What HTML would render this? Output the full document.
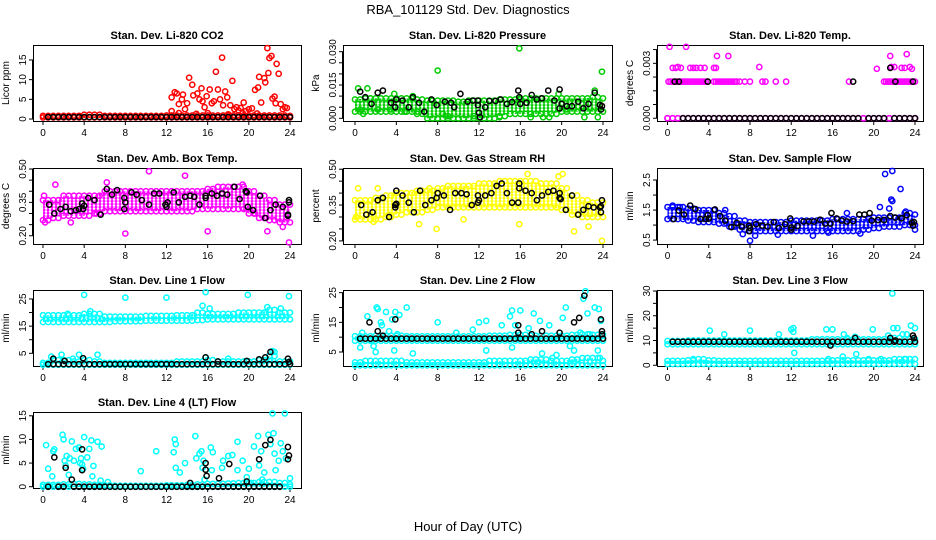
<!DOCTYPE html>
<html><head><meta charset="utf-8"><title>RBA_101129 Std. Dev. Diagnostics</title>
<style>
html,body{margin:0;padding:0;background:#fff;}
svg{display:block;font-family:"Liberation Sans",Arial,sans-serif;}
.pt{fill:none;stroke-width:1.5;}
</style></head>
<body>
<svg id="chart" width="936" height="540" viewBox="0 0 936 540" xmlns="http://www.w3.org/2000/svg">
<defs>
 <pattern id="pat-red" width="4" height="3" patternUnits="userSpaceOnUse"><circle cx="2" cy="1.5" r="1.9" fill="none" stroke="#ff0000" stroke-width="1.2"/></pattern>
 <pattern id="pat-green" width="4" height="3" patternUnits="userSpaceOnUse"><circle cx="2" cy="1.5" r="1.9" fill="none" stroke="#00cc00" stroke-width="1.2"/></pattern>
 <pattern id="pat-magenta" width="4" height="3" patternUnits="userSpaceOnUse"><circle cx="2" cy="1.5" r="1.9" fill="none" stroke="#ff00ff" stroke-width="1.2"/></pattern>
 <pattern id="pat-yellow" width="4" height="3" patternUnits="userSpaceOnUse"><circle cx="2" cy="1.5" r="1.9" fill="none" stroke="#ffff00" stroke-width="1.2"/></pattern>
 <pattern id="pat-blue" width="4" height="3" patternUnits="userSpaceOnUse"><circle cx="2" cy="1.5" r="1.9" fill="none" stroke="#0000ff" stroke-width="1.2"/></pattern>
 <pattern id="pat-cyan" width="4" height="3" patternUnits="userSpaceOnUse"><circle cx="2" cy="1.5" r="1.9" fill="none" stroke="#00ffff" stroke-width="1.2"/></pattern>
</defs>
<text x="468" y="14" font-size="13" text-anchor="middle">RBA_101129  Std. Dev. Diagnostics</text>
<text x="468" y="531" font-size="13" text-anchor="middle">Hour of Day (UTC)</text>
</svg>
<script>
// ---------- data ----------
const hrs = [0,1,2,3,4,5,6,7,8,9,10,11,12,13,14,15,16,17,18,19,20,21,22,23,24];
const hrsHalf = [0.5,1,1.5,2,2.5,3,3.5,4,4.5,5,5.5,6,6.5,7,7.5,8,8.5,9,9.5,10,10.5,11,11.5,12,12.5,13,13.5,14,14.5,15,15.5,16,16.5,17,17.5,18,18.5,19,19.5,20,20.5,21,21.5,22,22.5,23,23.5,24];
const xTicks = [0,4,8,12,16,20,24];

// Panel 1 CO2
const co2BandLo = [0.4,0.4,0.4,0.4,0.4,0.4,0.4,0.4,0.4,0.4,0.4,0.4,0.4,0.4,0.4,0.4,0.4,0.4,0.4,0.4,0.4,0.4,0.4,0.4,0.4];
const co2BandHi = [0.8,0.8,0.8,0.8,1.1,1.1,0.8,0.8,0.8,0.8,0.8,0.8,0.9,0.9,0.9,0.9,0.9,0.9,0.9,0.9,0.9,0.9,0.9,0.9,0.8];
const co2Red = [[12.5,5.5],[12.5,2],[12.8,6.8],[13,6.5],[13.2,3.8],[13.5,5],[13.6,6.2],[13.8,2.5],[14,4],[14.2,10.5],[14.5,8.7],[14.6,6],[15,6.5],[15.2,5],[15.4,7.8],[15.5,4.5],[15.7,3],[15.9,5.8],[16.2,7.5],[16.4,4],[16.6,4.5],[16.8,12],[17,7.5],[17.2,5],[17.4,15.6],[17.5,3.5],[17.7,7],[17.9,5.5],[18.2,3.5],[18.4,9.7],[18.6,2.5],[18.8,3],[19,2.2],[19.2,2.8],[19.5,4.2],[19.7,2],[20,2.5],[20.3,2.7],[20.6,7.4],[20.9,8],[21,10.7],[21.2,4.2],[21.5,10.4],[21.6,9.3],[21.8,18],[21.9,11.7],[22,15.5],[22.2,16],[22.3,5.2],[22.5,5.7],[22.6,4],[22.7,14],[22.9,11.5],[23.1,3.8],[23.3,2.5],[23.5,3],[23.7,2.8],[16,1.5],[18,1.2],[13.2,1.5],[14.9,1.3],[19.4,1.5],[20.8,1.4]];
const co2Black = [0.5,0.5,0.5,0.5,0.5,0.5,0.5,0.5,0.5,0.5,0.5,0.5,0.5,0.5,0.5,0.5,0.5,0.5,0.5,0.5,0.5,0.5,0.5,0.5,0.5,0.5,0.5,0.5,0.5,0.5,0.5,0.5,0.5,0.5,0.5,0.5,0.5,0.5,0.5,0.5,0.5,0.5,0.5,0.5,0.5,0.5,0.5,0.5];

// Panel 2 Pressure
const presBandLo = [0.003,0.003,0.003,0.003,0.003,0.003,0.002,0,0,0,0,0,0,0,0.001,0.002,0.002,0.002,0.002,0.002,0.003,0.003,0.003,0.003,0.003];
const presBandHi = [0.0085,0.009,0.009,0.009,0.009,0.009,0.0085,0.008,0.008,0.008,0.0075,0.008,0.008,0.008,0.0085,0.0085,0.009,0.009,0.009,0.009,0.009,0.009,0.009,0.0095,0.009];
const presGreen = [[0.3,0.0135],[0.5,0.004],[0.8,0.002],[1.2,0.0135],[1.5,0.009],[2.2,0.004],[3.8,0.011],[3.5,0.004],[4.8,0.003],[5.6,0.01],[6,0.003],[8,0.0215],[8.5,0.002],[9,0.001],[15.9,0.0315],[16,0.0085],[17,0.0005],[18.2,0.0005],[18.8,0.0005],[19.7,0.011],[20.5,0.004],[22.2,0.0005],[23.2,0.0125],[23.5,0.0005],[23.9,0.021],[14,0.0005],[11.5,0.001]];
const presBlack = [[0.5,0.012],[1,0.0095],[1.6,0.0065],[2.2,0.0115],[2.7,0.0125],[3.5,0.007],[3.9,0.005],[4,0.0085],[4.6,0.008],[5.2,0.005],[5.6,0.0095],[6.2,0.007],[6.7,0.003],[7.4,0.0085],[7.9,0.006],[8.7,0.0075],[9.3,0.007],[9.6,0.005],[10.2,0.011],[10.9,0.0075],[11.4,0.008],[11.9,0.008],[11.9,0.006],[12,0.0025],[12.1,0.0005],[12.6,0.005],[13,0.0078],[13.6,0.0078],[14.1,0.0085],[14.7,0.0065],[15.2,0.0073],[15.8,0.0125],[15.9,0.0095],[16,0.0065],[16.6,0.007],[17.1,0.0105],[17.6,0.0085],[18.1,0.009],[18.7,0.0125],[19.3,0.008],[19.8,0.013],[19.8,0.0045],[20,0.0065],[20.5,0.0055],[21,0.0055],[21.6,0.0075],[22.1,0.0045],[22.6,0.0065],[23.2,0.0115],[23.7,0.006],[23.8,0.004],[23.9,0.0055]];

// Panel 3 Temp
const tempBandLo = [0,0,0,0,0,0,0,0,0,0,0,0,0,0,0,0,0,0,0,0,0,0,0,0,0];
const tempBandHi = [0,0,0,0,0,0,0,0,0,0,0,0,0,0,0,0,0,0,0,0,0,0,0,0,0];
const tempMagX002 = [0.1,0.3,0.5,0.7,0.9,1.1,1.3,1.5,1.7,1.9,2.1,2.3,2.5,2.7,2.9,3.1,3.3,3.5,3.7,3.9,4.5,4.7,4.9,5.1,5.3,5.5,5.7,5.9,6.1,6.3,6.5,6.7,7,7.5,8,9.2,9.5,10.5,11.5,17.6,21,21.2,21.4,21.6,21.8,22,22.2,22.4,22.6,22.8,23,23.2,23.4,23.6,23.8,24];
const tempMagY002 = [0.002,0.002,0.002,0.002,0.002,0.002,0.002,0.002,0.002,0.002,0.002,0.002,0.002,0.002,0.002,0.002,0.002,0.002,0.002,0.002,0.002,0.002,0.002,0.002,0.002,0.002,0.002,0.002,0.002,0.002,0.002,0.002,0.002,0.002,0.002,0.002,0.002,0.002,0.002,0.002,0.002,0.002,0.002,0.002,0.002,0.002,0.002,0.002,0.002,0.002,0.002,0.002,0.002,0.002,0.002,0.002];
const tempMagHigh = [[0.5,0.00275],[0.8,0.00275],[1,0.0028],[1.3,0.00275],[2.2,0.00275],[2.5,0.00275],[2.8,0.00275],[3.2,0.00275],[3.6,0.00275],[4.5,0.00275],[4.7,0.00275],[8.9,0.0028],[20.3,0.0027],[21.7,0.0028],[22,0.0028],[22.7,0.00275],[23,0.00275],[23.5,0.0028],[23.7,0.0027],[4.8,0.0034],[5.9,0.0034],[21.6,0.0034],[23.2,0.0035],[0.2,0.0039],[1.8,0.0039]];
const tempBlack0 = [null,null,0,0,0,0,0,0,0,0,0,0,0,0,0,0,0,0,0,0,0,0,0,0,0,0,0,0,0,0,0,0,0,0,0,0,0,null,0,0,0,0,null,0,0,0,0,0];
const tempBlackHi = [[0.7,0.002],[1.1,0.002],[3.9,0.002],[18,0.002],[22.1,0.002],[23.8,0.002],[21.6,0.00275]];

// Panel 4 Amb box temp
const ambBandLo = [0.27,0.28,0.29,0.29,0.29,0.3,0.31,0.31,0.31,0.31,0.31,0.31,0.31,0.31,0.31,0.32,0.32,0.32,0.32,0.32,0.3,0.28,0.27,0.26,0.26];
const ambBandHi = [0.36,0.36,0.38,0.38,0.38,0.38,0.4,0.4,0.4,0.4,0.4,0.4,0.4,0.4,0.4,0.4,0.41,0.42,0.42,0.42,0.4,0.38,0.36,0.34,0.34];
const ambMag = [[1.2,0.43],[8,0.21],[10.3,0.49],[13.8,0.47],[16,0.22],[23.9,0.17],[21.8,0.22],[23.3,0.24],[6.2,0.44],[0.2,0.26],[2.7,0.26],[0.1,0.38],[5.2,0.3],[19.4,0.43],[20.6,0.3]];
const ambBlack = [[0.6,0.34],[1.1,0.3],[1.7,0.32],[2.2,0.33],[2.7,0.31],[3.2,0.315],[3.5,0.32],[3.8,0.345],[3.9,0.32],[4,0.335],[4.4,0.37],[5,0.36],[5.6,0.295],[6.2,0.41],[6.7,0.385],[7.2,0.405],[7.9,0.37],[7.9,0.32],[8,0.35],[8.6,0.395],[9.1,0.385],[9.6,0.36],[10.3,0.34],[10.8,0.39],[11.3,0.39],[11.9,0.34],[12,0.33],[12.1,0.35],[12.7,0.395],[13.2,0.35],[13.8,0.375],[14.3,0.38],[14.7,0.375],[15.2,0.34],[15.8,0.37],[15.8,0.38],[16.4,0.39],[16.9,0.38],[17.4,0.39],[17.9,0.385],[18.6,0.42],[19.1,0.365],[19.7,0.4],[19.8,0.395],[19.9,0.33],[20.4,0.315],[21.1,0.38],[21.6,0.28],[22.1,0.315],[22.6,0.34],[23.3,0.33],[23.8,0.295],[23.8,0.29],[23.9,0.35],[23.9,0.36]];

// Panel 5 RH
const rhBandLo = [0.29,0.29,0.29,0.3,0.31,0.32,0.32,0.33,0.34,0.34,0.34,0.34,0.34,0.34,0.34,0.34,0.34,0.34,0.34,0.34,0.33,0.31,0.3,0.3,0.3];
const rhBandHi = [0.37,0.37,0.38,0.39,0.4,0.4,0.41,0.41,0.42,0.43,0.43,0.43,0.44,0.44,0.45,0.45,0.45,0.45,0.44,0.44,0.42,0.39,0.37,0.36,0.36];
const rhYellow = [[0.3,0.42],[2.2,0.42],[6.2,0.27],[7.9,0.25],[10.5,0.29],[15.9,0.27],[19.7,0.47],[20.1,0.48],[21.2,0.24],[23.9,0.2],[16.7,0.48],[3.3,0.31],[0.1,0.3],[1.8,0.28],[22.6,0.26],[7.2,0.42]];
const rhBlack = [[0.6,0.35],[1.1,0.31],[1.7,0.32],[2.2,0.37],[2.7,0.38],[3.3,0.3],[3.9,0.34],[3.9,0.35],[4,0.355],[4,0.41],[4.6,0.39],[5.2,0.36],[5.7,0.32],[6.3,0.41],[6.8,0.35],[7.4,0.37],[7.9,0.38],[8,0.4],[8.6,0.39],[9.2,0.33],[9.7,0.4],[10.3,0.4],[10.8,0.395],[11.3,0.35],[11.9,0.36],[11.9,0.39],[12,0.37],[12.6,0.39],[13.2,0.4],[13.7,0.43],[14.2,0.44],[14.7,0.4],[15.2,0.36],[15.8,0.36],[15.9,0.42],[15.9,0.44],[16.5,0.41],[17.1,0.4],[17.6,0.37],[18.1,0.39],[18.7,0.405],[19.2,0.41],[19.8,0.4],[19.8,0.38],[19.9,0.375],[20.4,0.33],[21,0.39],[21.6,0.31],[22.1,0.33],[22.6,0.345],[23.1,0.34],[23.7,0.34],[23.8,0.32],[23.8,0.345],[23.9,0.37]];

// Panel 6 Sample flow
const sfBandLo = [1.2,1.2,1.15,1.1,1.1,1.05,0.95,0.85,0.8,0.8,0.8,0.8,0.8,0.8,0.8,0.8,0.8,0.8,0.8,0.85,0.9,0.95,0.95,1,1];
const sfBandHi = [1.6,1.6,1.55,1.5,1.5,1.4,1.3,1.15,1.1,1.1,1.1,1.1,1.15,1.15,1.15,1.15,1.2,1.2,1.2,1.2,1.25,1.25,1.25,1.4,1.35];
const sfBlue = [[7.3,0.7],[8,0.48],[8.5,0.65],[10.7,0.68],[14.1,0.65],[18.7,0.72],[20.6,1.6],[21.1,2.7],[21.5,1.55],[21.7,1.85],[21.8,1.8],[21.8,2.8],[22.6,2.2],[17.4,1.4],[24,0.85],[0.5,1.65],[1.2,1.6],[5.6,1.5],[23.1,1.45],[15.6,0.75]];
const sfBlack = [[0.6,1.2],[1.1,1.48],[1.6,1.35],[2.2,1.65],[2.7,1.53],[3.2,1.2],[3.7,1.2],[3.9,1.33],[4,1.22],[4.6,1.52],[5.1,1.3],[5.6,1.15],[6.2,0.93],[6.7,1.07],[7.2,0.95],[7.9,0.98],[7.9,0.8],[8,0.9],[8.6,1.03],[9.2,0.98],[9.7,0.95],[10.3,1.1],[10.8,0.9],[11.4,1.03],[11.9,1.22],[12,0.85],[12,0.92],[12.6,0.97],[13.2,1.12],[13.7,1.12],[14.2,1.12],[14.8,1.18],[15.3,1.05],[15.8,1.05],[15.9,1.4],[16.4,1.22],[16.9,1.15],[17.4,1.12],[18,1.13],[18.6,1.35],[19.1,1.35],[19.6,1.4],[19.8,1.15],[20.4,1.17],[21,1.17],[21.6,1.3],[22.1,1.25],[22.7,1.23],[23.2,1.33],[23.7,1.08],[23.8,0.98],[23.9,1.1]];

// Panel 7 Line 1
const l1BandLo = [16.5,16.5,16.5,16.5,16.5,16.5,16.5,16.8,16.8,16.8,17,17,17,17,17,17.2,17.5,17.5,17.5,17.5,17.5,17.5,17.5,17.5,17.5];
const l1BandHi = [19,19,19,19,19.5,19.5,18.5,18.5,18.5,18.5,18.8,18.8,18.8,19,19,20,19.5,19.5,19.5,20,20,20,21,20,20];
const l1LowLo = [0.8,0.8,0.8,0.8,0.8,0.8,0.8,0.8,0.8,0.8,0.8,0.8,0.8,0.8,0.8,0.8,0.8,0.8,0.8,0.8,0.8,0.8,0.8,0.8,0.8];
const l1LowHi = [1.5,2.5,2.5,2,2.5,2,1.5,1.5,1.5,1.5,1.5,1.5,1.5,2,2,2,2.5,2,2,2,2,2.5,4,2,2];
const l1Cyan = [[4,26.5],[8,25.5],[12,25.5],[15.8,27.5],[19.9,26.5],[23.9,26],[16.2,21.5],[15.5,22.5],[2.4,19.5],[4.6,20.5],[21.8,22],[23.1,21.5],[1.8,4.5],[3.5,4.5],[5.3,4.5],[0.8,3.8],[2.9,3],[15.8,3.5],[18,3],[22.3,5.8],[22.5,5.5]];
const l1Black = [1,1,1,1,1,1,1,1,1,1,1,1,1,1,1,1,1,1,1,1,1,1,1,1,1,1,1,1,1,1,1,1,1,1,1,1,1,1,1,1,1,1,1,1,1,1,1,1];
const l1BlackHi = [[1,3],[2.1,2.2],[3.9,3.2],[15.8,3.5],[17,2],[19.8,2.2],[21,2.8],[21.6,3.5],[22.1,5.5],[23.8,3],[23.9,1.8]];

// Panel 8 Line 2
const l2BandLo = [8.8,8.8,8.8,8.8,8.8,8.8,8.8,8.8,8.8,8.8,8.8,8.8,8.8,8.8,8.8,8.8,8.8,8.8,8.8,8.8,8.8,8.8,8.8,8.8,8.8];
const l2BandHi = [10.3,10.3,10.5,10.5,10.5,10.3,10.3,10.3,10.3,10.3,10.3,10.3,10.3,10.5,10.5,10.8,10.8,10.5,10.5,10.5,10.5,10.8,11,10.8,10.8];
const l2LowLo = [0.5,0.5,0.5,0.5,0.5,0.5,0.5,0.5,0.5,0.5,0.5,0.5,0.5,0.5,0.5,0.5,0.5,0.5,0.5,0.5,0.5,0.5,0.5,0.5,0.5];
const l2LowHi = [1.5,2,2,2,2,1.5,1.5,1.5,1.5,1.5,1.5,1.5,1.5,2,2,2,2,2.5,2.5,2,2,2.5,3,3,2];
const l2Cyan = [[0.5,6.5],[0.7,11.5],[1.2,17],[1.5,9],[2.1,20],[2.2,19.5],[2.5,15],[2.6,14],[3,18.5],[3.3,12],[3.6,16],[3.9,18.5],[4.3,17.5],[5,20],[5.6,4.5],[2,5],[1.8,7],[3.8,5.5],[4.1,11],[8,15],[9.8,11.5],[11.4,12.5],[12,15],[12.7,15.5],[12.7,5.5],[14.2,14],[15,17],[15.2,19],[15.5,14],[15.2,6.5],[16,19],[17.3,18],[16.8,13],[17.9,15.5],[18.8,14],[19.5,4],[20.1,16.5],[20.4,20],[20.8,7],[21.2,5.5],[21.8,11.5],[22.1,23],[22.3,25.5],[22.5,18],[22.7,11],[23.2,20],[23.6,19.5],[23.8,15.5],[23.5,5.5],[23.7,3],[18.1,4.5],[19.1,3]];
const l2Black = [9.5,9.5,9.5,9.5,9.5,9.5,9.5,9.5,9.5,9.5,9.5,9.5,9.5,9.5,9.5,9.5,9.5,9.5,9.5,9.5,9.5,9.5,9.5,9.5,9.5,9.5,9.5,9.5,9.5,9.5,9.5,9.5,9.5,9.5,9.5,9.5,9.5,9.5,9.5,9.5,9.5,9.5,9.5,9.5,9.5,9.5,9.5,9.5];
const l2BlackHi = [[1.4,15],[2.2,12],[3.9,16],[2.7,10.5],[15.8,14],[15.8,11.5],[17.1,11],[18.1,12],[19.8,11.5],[21.2,15],[21.7,16.5],[22.2,24],[23.8,16],[23.9,12],[23.9,11]];

// Panel 9 Line 3
const l3BandLo = [8.5,8.5,8.5,8.5,8.5,8.5,8.5,8.5,8.5,8.5,8.5,8.5,8.5,8.5,8.5,8.5,8.5,8.5,8.5,8.5,8.5,8.5,8.5,8.5,8.5];
const l3BandHi = [9.8,9.8,10,10,10,10,10,10,10,10,10,10,10,10,10.5,10.5,10.5,10.5,10.5,10.5,10.5,10.5,11,10.5,10.5];
const l3LowLo = [0.5,0.5,0.5,0.5,0.5,0.5,0.5,0.5,0.5,0.5,0.5,0.5,0.5,0.5,0.5,0.5,0.5,0.5,0.5,0.5,0.5,0.5,0.5,0.5,0.5];
const l3LowHi = [1.8,1.8,2,2.5,2,1.8,1.8,1.8,1.8,1.8,1.8,1.8,1.8,1.8,1.8,1.8,2,2,2,2,2,2,2.5,2.5,2.5];
const l3Cyan = [[4.1,14],[5.5,12.5],[8,14],[10.8,12.5],[12,14.5],[12.2,15],[12.2,13.5],[12.3,5],[15.4,14.5],[16,14.5],[17.1,12.5],[17.4,11],[18.2,11.5],[19.9,14.5],[21.4,12],[21.8,29],[21.9,15],[22.3,15],[22.8,12.5],[23.2,12.5],[23.6,16],[24,15],[2.5,2.5],[17,3.5],[18.3,4.5],[19.5,2.5],[20.7,2.5],[15.6,2.5],[23.1,2.5]];
const l3Black = [9.5,9.5,9.5,9.5,9.5,9.5,9.5,9.5,9.5,9.5,9.5,9.5,9.5,9.5,9.5,9.5,9.5,9.5,9.5,9.5,9.5,9.5,9.5,9.5,9.5,9.5,9.5,9.5,9.5,9.5,9.5,9.5,9.5,9.5,9.5,9.5,9.5,9.5,9.5,9.5,9.5,9.5,9.5,9.5,9.5,9.5,9.5,9.5];
const l3BlackHi = [[15.8,8],[18.2,11],[21.6,11],[22.1,10],[23.8,12],[23.9,11]];

// Panel 10 Line 4
const l4BandLo = [0,0,0,0,0,0,0,0,0,0,0,0,0,0,0,0,0,0,0,0,0,0,0,0,0];
const l4BandHi = [0.4,0.4,0.5,0.6,0.5,0.4,0.3,0.2,0.2,0.2,0.2,0.2,0.3,0.3,0.4,0.5,0.6,0.6,0.7,0.8,0.8,1,1,0.8,0.5];
const l4Cyan = [[0.3,8.8],[0.5,3.8],[0.9,2.2],[1,7.5],[1.1,7.9],[1.9,11],[2,10],[2.1,5.5],[2.2,4.5],[2.3,6.5],[2.5,2.5],[2.6,6],[2.8,9.6],[3,5.5],[3.2,8],[3.5,8.3],[3.6,5],[3.7,6],[3.8,4.7],[3.9,3.8],[4,10.5],[4.3,6.2],[4.5,8],[4.7,9.8],[4.8,2.2],[4.9,4.4],[5.3,9.5],[5.6,1.3],[5.7,8.5],[6.3,1],[9.5,3.3],[11,7.5],[12.7,7.3],[12.8,10],[12.9,9],[12.9,4],[13.3,3],[13.8,5],[14.8,10.7],[14.9,6],[15.2,7],[15.4,7.5],[15.5,4],[15.6,5.5],[15.7,1.5],[16.3,8.3],[16.5,7.3],[16.4,3.5],[17.4,4],[17.5,5.5],[18,6.5],[18.4,6.7],[18.9,3.5],[18.9,9.5],[19.4,5.5],[19.8,2],[20,3.8],[20.5,8.5],[20.9,10.7],[21,4.5],[21.2,7.5],[21.5,3],[21.9,11],[22.1,9],[22.3,15.5],[22.4,11.3],[22.5,7],[22.6,3.5],[22.9,5.5],[23.1,9.2],[23.3,7.5],[23.5,15.5],[23.6,6],[24,1.8],[20.2,0.8],[21.3,1.5]];
const l4Black = [0,null,0,0,null,0,0,0,0,0,0,0,0,0,0,0,0,0,0,0,0,0,0,0,0,0,0,0,0,0,0,0,0,0,0,0,0,0,0,0,0,0,0,0,0,0,null,null];
const l4BlackHi = [[1.1,6.2],[2.2,4],[2.8,1.5],[3.8,7.9],[3.8,3.5],[14.3,0.8],[15.8,5],[15.8,3.6],[15.9,2.3],[17.1,1.8],[18.1,4.8],[19.8,1.1],[21,5.8],[21.6,8.8],[22.1,9.9],[23.8,8.4],[23.8,5.8],[23.9,6.6]];

// ---------- drawing ----------
const NS = 'http://www.w3.org/2000/svg';
const svg = document.getElementById('chart');
const COLS = [{l:33,r:301,x0:43,x24:290},{l:343,r:612,x0:355,x24:603},{l:657,r:923,x0:667.5,x24:915}];
const ROWS = [45,168,290,412];
const H = 76;
const COLORS = {red:'#ff0000',green:'#00cc00',magenta:'#ff00ff',yellow:'#ffff00',blue:'#0000ff',cyan:'#00ffff',black:'#000000'};

function mk(tag, attrs, parent){
  const e = document.createElementNS(NS, tag);
  for (const k in attrs) e.setAttribute(k, attrs[k]);
  (parent||svg).appendChild(e);
  return e;
}

function makePanel(col,row,lo,hi,title,ylab,yTicks,yLabels,name){
  const c = COLS[col], top = ROWS[row];
  const g = mk('g',{});
  
  
  const sx = h => c.x0 + h*(c.x24-c.x0)/24;
  const sy = v => top + (hi-v)/(hi-lo)*H;
  const t = mk('text',{x:(c.l+c.r)/2,y:top-6,'font-size':11,'font-weight':'bold','text-anchor':'middle'},g);
  t.textContent = title;
  
  
  const yt = mk('text',{x:0,y:0,'font-size':10,'text-anchor':'middle',transform:`translate(${c.l-24},${top+H/2}) rotate(-90)`},g);
  yt.textContent = ylab;
  
  
  const ax = mk('g',{stroke:'#000','stroke-width':1},g);
  
  
  mk('line',{x1:sx(0),x2:sx(24),y1:top+H+0.5,y2:top+H+0.5},ax);
  xTicks.forEach(v=>{
    mk('line',{x1:sx(v),x2:sx(v),y1:top+H,y2:top+H+4},ax);
    const tl = mk('text',{x:sx(v),y:top+H+15,'font-size':10,'text-anchor':'middle',stroke:'none'},g);
    tl.textContent = String(v);
    
    
  });
  mk('line',{x1:c.l-0.5,x2:c.l-0.5,y1:sy(yTicks[0]),y2:sy(yTicks[yTicks.length-1])},ax);
  yTicks.forEach((v,i)=>{
    mk('line',{x1:c.l-4,x2:c.l,y1:sy(v),y2:sy(v)},ax);
    if (yLabels[i]) {
      const tl = mk('text',{x:0,y:0,'font-size':10,'text-anchor':'middle',transform:`translate(${c.l-7},${sy(v)}) rotate(-90)`},g);
      tl.textContent = yLabels[i];
      
      
    }
  });
  const box = mk('rect',{x:c.l+0.5,y:top+0.5,width:c.r-c.l,height:H,fill:'none',stroke:'#000','stroke-width':1},g);
  
  
  const marks = mk('g',{},g);
  return {g:marks, sx, sy, name};
}

function band(p, lo, hi, color){
  let pts = hrs.map((h,i)=>p.sx(h)+','+p.sy(hi[i]));
  pts = pts.concat(hrs.slice().reverse().map((h,j)=>{const i=hrs.length-1-j; return p.sx(h)+','+p.sy(lo[i]);}));
  const poly = mk('polygon',{points:pts.join(' '),fill:`url(#pat-${color})`,stroke:'none'},p.g);
  
  
  hrs.forEach((h,i)=>{
    [lo[i],hi[i]].forEach(v=>{
      const c = mk('circle',{cx:p.sx(h),cy:p.sy(v),r:2.6,class:'pt',stroke:COLORS[color]},p.g);
      
      
    });
    if (i < hrs.length-1) {
      [lo[i],hi[i]].forEach(v=>{
        const c = mk('circle',{cx:p.sx(h+0.5),cy:p.sy(v),r:2.6,class:'pt',stroke:COLORS[color]},p.g);
        
        
      });
    }
  });
}
function pairs(p, arr, color){
  arr.forEach(([x,y])=>{
    const c = mk('circle',{cx:p.sx(x),cy:p.sy(y),r:2.6,class:'pt',stroke:COLORS[color]},p.g);
    
    
  });
}
function series(p, xs, ys, color){
  xs.forEach((x,i)=>{
    if (ys[i]===null || ys[i]===undefined) return;
    const c = mk('circle',{cx:p.sx(x),cy:p.sy(ys[i]),r:2.6,class:'pt',stroke:COLORS[color]},p.g);
    
    
  });
}

let p;
p = makePanel(0,0,-0.5,18.8,'Stan. Dev. Li-820 CO2','Licor ppm',[0,5,10,15],['0','5','10','15'],'co2');
band(p,co2BandLo,co2BandHi,'red'); pairs(p,co2Red,'red'); series(p,hrsHalf,co2Black,'black');

p = makePanel(1,0,-0.0012,0.033,'Stan. Dev. Li-820 Pressure','kPa',[0,0.005,0.01,0.015,0.02,0.025,0.03],['0.000','','','0.015','','','0.030'],'pressure');
band(p,presBandLo,presBandHi,'green'); pairs(p,presGreen,'green'); pairs(p,presBlack,'black');

p = makePanel(2,0,-0.00015,0.004,'Stan. Dev. Li-820 Temp.','degrees C',[0,0.00075,0.0015,0.00225,0.003,0.00375],['0.000','','','','0.003',''],'temp');
band(p,tempBandLo,tempBandHi,'magenta');
series(p,tempMagX002,tempMagY002,'magenta');
pairs(p,tempMagHigh,'magenta'); series(p,hrsHalf,tempBlack0,'black'); pairs(p,tempBlackHi,'black');

p = makePanel(0,1,0.163,0.5045,'Stan. Dev. Amb. Box Temp.','degrees C',[0.2,0.25,0.3,0.35,0.4,0.45,0.5],['0.20','','','0.35','','','0.50'],'amb-box-temp');
band(p,ambBandLo,ambBandHi,'magenta'); pairs(p,ambMag,'magenta'); pairs(p,ambBlack,'black');

p = makePanel(1,1,0.187,0.505,'Stan. Dev. Gas Stream RH','percent',[0.2,0.25,0.3,0.35,0.4,0.45,0.5],['0.20','','','0.35','','','0.50'],'gas-rh');
band(p,rhBandLo,rhBandHi,'yellow'); pairs(p,rhYellow,'yellow'); pairs(p,rhBlack,'black');

p = makePanel(2,1,0.37,2.9,'Stan. Dev. Sample Flow','ml/min',[0.5,1,1.5,2,2.5],['0.5','','1.5','','2.5'],'sample-flow');
band(p,sfBandLo,sfBandHi,'blue'); pairs(p,sfBlue,'blue'); pairs(p,sfBlack,'black');

p = makePanel(0,2,0.33,28.3,'Stan. Dev. Line 1 Flow','ml/min',[5,10,15,20,25],['5','','15','','25'],'line1-flow');
band(p,l1BandLo,l1BandHi,'cyan'); band(p,l1LowLo,l1LowHi,'cyan'); pairs(p,l1Cyan,'cyan');
series(p,hrsHalf,l1Black,'black'); pairs(p,l1BlackHi,'black');

p = makePanel(1,2,0.28,25.9,'Stan. Dev. Line 2 Flow','ml/min',[5,10,15,20,25],['5','','15','','25'],'line2-flow');
band(p,l2BandLo,l2BandHi,'cyan'); band(p,l2LowLo,l2LowHi,'cyan'); pairs(p,l2Cyan,'cyan');
series(p,hrsHalf,l2Black,'black'); pairs(p,l2BlackHi,'black');

p = makePanel(2,2,-0.3,30.4,'Stan. Dev. Line 3 Flow','ml/min',[0,5,10,15,20,25,30],['0','','10','','20','','30'],'line3-flow');
band(p,l3BandLo,l3BandHi,'cyan'); band(p,l3LowLo,l3LowHi,'cyan'); pairs(p,l3Cyan,'cyan');
series(p,hrsHalf,l3Black,'black'); pairs(p,l3BlackHi,'black');

p = makePanel(0,3,-0.27,15.8,'Stan. Dev. Line 4 (LT) Flow','ml/min',[0,5,10,15],['0','5','10','15'],'line4-flow');
band(p,l4BandLo,l4BandHi,'cyan'); pairs(p,l4Cyan,'cyan');
series(p,hrsHalf,l4Black,'black'); pairs(p,l4BlackHi,'black');
</script>
</body></html>
